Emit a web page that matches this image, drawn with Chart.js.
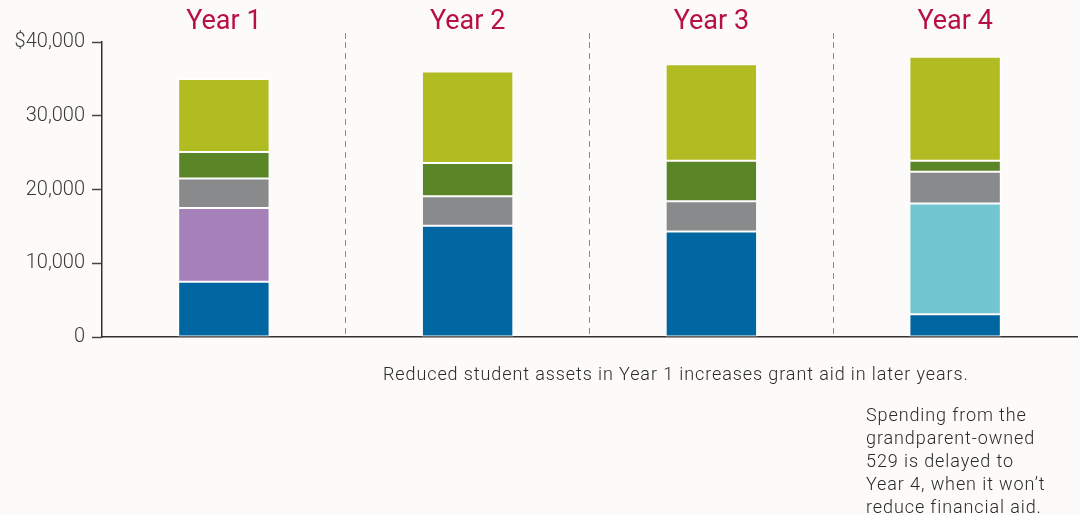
<!DOCTYPE html>
<html>
<head>
<meta charset="utf-8">
<script src="https://cdn.jsdelivr.net/npm/chart.js@4.4.1/dist/chart.umd.min.js"></script>
<style>
  html, body { margin: 0; padding: 0; background: #fcfbf9; }
  #wrap { position: relative; width: 1080px; height: 515px; overflow: hidden; }
  canvas { position: absolute; left: 0; top: 0; }
  .note { position: absolute; font-family: Roboto, "Liberation Sans", sans-serif; font-weight: 300; font-size: 18px; letter-spacing: 0.9px; color: #2a2a2a; line-height: 23px; white-space: nowrap; }
</style>
</head>
<body>
<div id="wrap">
  <canvas id="c" width="1080" height="515"></canvas>
  <div class="note" id="n1" style="left:383px; top:362px;"></div>
  <div class="note" id="n2" style="left:866px; top:403px;"></div>
</div>
<script>
const categories = ["Year 1", "Year 2", "Year 3", "Year 4"];
const studentAssets = [7500, 15100, 14300, 3100];      // blue
const purpleSource = [10000, null, null, null];        // purple
const grandparent529 = [null, null, null, 15000];      // cyan
const graySource = [4000, 4000, 4100, 4300];           // gray
const darkGreenSource = [3600, 4500, 5500, 1500];      // dark green
const lightGreenSource = [9900, 12400, 13100, 14100];  // light green
const yTicks = [0, 10000, 20000, 30000, 40000];
const note1 = "Reduced student assets in Year 1 increases grant aid in later years.";
const note2Lines = ["Spending from the", "grandparent-owned", "529 is delayed to", "Year 4, when it won\u2019t", "reduce financial aid."];

document.getElementById('n1').textContent = note1;
document.getElementById('n2').innerHTML = note2Lines.join('<br>');

const series = [
  { data: studentAssets, color: '#0066a1' },
  { data: purpleSource, color: '#a681b9' },
  { data: grandparent529, color: '#71c6d0' },
  { data: graySource, color: '#898a8c' },
  { data: darkGreenSource, color: '#5b8628' },
  { data: lightGreenSource, color: '#b0bc22' }
];

const hideEdges = ctx => (ctx.type !== 'tick' || ctx.index === 0) ? 'rgba(0,0,0,0)' : '#8a8a8a';

const bgPlugin = {
  id: 'bg',
  beforeDraw(chart) {
    const ctx = chart.ctx;
    ctx.save();
    ctx.fillStyle = '#fcfbf9';
    ctx.fillRect(0, 0, chart.width, chart.height);
    ctx.restore();
  }
};

new Chart(document.getElementById('c'), {
  type: 'bar',
  data: {
    labels: categories,
    datasets: series.map(s => ({
      data: s.data,
      backgroundColor: s.color,
      borderColor: '#ffffff',
      borderWidth: 1,
      borderSkipped: false,
      categoryPercentage: 1,
      barPercentage: 0.375,
      xAxisID: 'x',
      yAxisID: 'y'
    }))
  },
  options: {
    responsive: false,
    animation: false,
    events: [],
    layout: { padding: { left: 0, right: 3, top: 0, bottom: 0 } },
    plugins: { legend: { display: false }, tooltip: { enabled: false }, title: { display: false } },
    scales: {
      x: {
        type: 'category',
        position: 'bottom',
        stacked: true,
        offset: true,
        ticks: { display: false },
        grid: { display: true, offset: true, drawOnChartArea: true, drawTicks: false, color: hideEdges, lineWidth: 1 },
        border: { display: true, color: '#333333', width: 1.5, dash: [6, 5] },
        afterFit: s => { s.height = 178; }
      },
      x2: {
        type: 'category',
        position: 'top',
        labels: categories,
        offset: true,
        ticks: { color: '#b80f45', font: { family: 'Roboto', size: 27, weight: 400 }, padding: -5 },
        grid: { display: true, offset: true, drawOnChartArea: false, drawTicks: true, tickLength: 9, tickColor: hideEdges, tickWidth: 1, tickBorderDash: [6, 5], color: hideEdges },
        border: { display: false },
        afterFit: s => { s.height = 42; }
      },
      y: {
        stacked: true,
        min: 0,
        max: 40000,
        afterBuildTicks: s => { s.ticks = yTicks.map(v => ({ value: v })); },
        ticks: {
          color: '#3a3a3a',
          padding: 7,
          font: { family: 'Roboto', size: 20, weight: 300 },
          callback: v => (v === 40000 ? '$' : '') + v.toLocaleString('en-US')
        },
        grid: { display: true, drawOnChartArea: false, drawTicks: true, tickLength: 10, tickColor: '#444444', tickWidth: 1.5 },
        border: { display: true, color: '#333333', width: 1.5 },
        afterFit: s => { s.width = 102; }
      }
    }
  },
  plugins: [bgPlugin]
});
</script>
</body>
</html>
